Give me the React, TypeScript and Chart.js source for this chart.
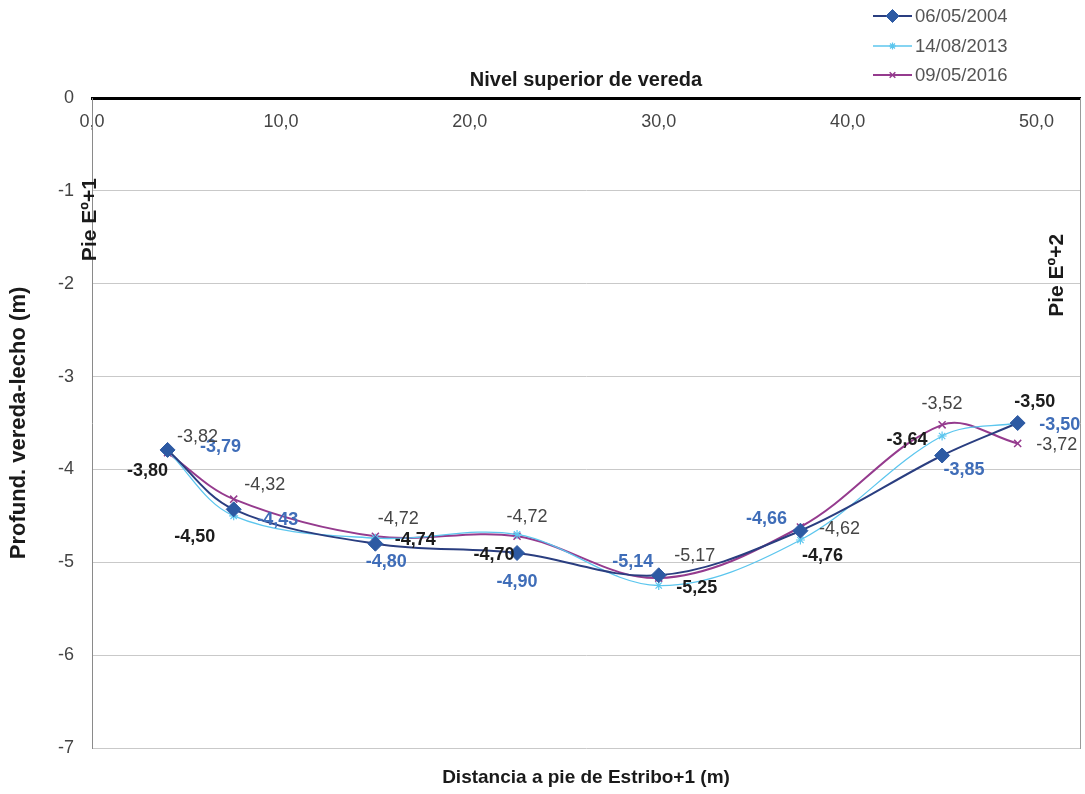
import React, { useEffect, useRef } from 'react';
import { Chart, registerables } from 'chart.js';
import { drawPoint } from 'chart.js/helpers';

Chart.register(...registerables);

const FONT = '"Liberation Sans", Arial, Helvetica, sans-serif';

// ---- Data ----
const distances = [4, 7.5, 15, 22.5, 30, 37.5, 45, 49];
const seriesNames = ['06/05/2004', '14/08/2013', '09/05/2016'];
const depth2004 = [-3.79, -4.43, -4.8, -4.9, -5.14, -4.66, -3.85, -3.5];
const depth2013 = [-3.8, -4.5, -4.74, -4.7, -5.25, -4.76, -3.64, -3.5];
const depth2016 = [-3.82, -4.32, -4.72, -4.72, -5.17, -4.62, -3.52, -3.72];
const xTickValues = [0, 10, 20, 30, 40, 50];
const yTickValues = [0, -1, -2, -3, -4, -5, -6, -7];

const topTitle = 'Nivel superior de vereda';
const xTitle = 'Distancia a pie de Estribo+1 (m)';
const yTitle = 'Profund. vereda-lecho (m)';
const sideNotes = ['Pie Eº+1', 'Pie Eº+2'];

// ---- label placement (pixel offsets from each point) ----
const offsets2004 = [[53, -3], [44, 11], [11, 18], [0, 29], [-26, -13], [-34, -12], [22, 15], [42, 2]];
const offsets2013 = [[-20, 20], [-39, 21], [40, 2], [-23, 21], [38, 3], [22, 16], [-35, 4], [17, -21]];
const offsets2016 = [[30, -16], [31, -14], [23, -17], [10, -19], [36, -22], [39, 2], [0, -21], [39, 2]];
const labelOffsets = [offsets2004, offsets2013, offsets2016];
const labelStyles = [
  { color: '#3F6DB8', weight: 'bold' },
  { color: '#1c1c1c', weight: 'bold' },
  { color: '#454545', weight: 'normal' },
];

const fmtComma = (v: number, d: number) => v.toFixed(d).replace('.', ',');

const pointLabelPlugin = {
  id: 'pointLabels',
  afterDatasetsDraw(chart: any) {
    const ctx = chart.ctx;
    chart.data.datasets.forEach((ds: any, i: number) => {
      const meta = chart.getDatasetMeta(i);
      const st = labelStyles[i];
      ctx.save();
      ctx.font = `${st.weight} 18px ${FONT}`;
      ctx.fillStyle = st.color;
      ctx.textAlign = 'center';
      ctx.textBaseline = 'middle';
      meta.data.forEach((pt: any, j: number) => {
        const [dx, dy] = labelOffsets[i][j];
        ctx.fillText(fmtComma(ds.data[j].y, 2), pt.x + dx, pt.y + dy);
      });
      ctx.restore();
    });
  },
};

const sideNotePlugin = {
  id: 'sideNotes',
  afterDraw(chart: any) {
    const ctx = chart.ctx;
    const xs = chart.scales.x;
    const ys = chart.scales.y;
    const spots = [
      [xs.getPixelForValue(-0.1), ys.getPixelForValue(-1.31)],
      [xs.getPixelForValue(51.1), ys.getPixelForValue(-1.91)],
    ];
    ctx.save();
    ctx.font = `bold 21px ${FONT}`;
    ctx.fillStyle = '#1a1a1a';
    ctx.textAlign = 'center';
    ctx.textBaseline = 'middle';
    sideNotes.forEach((t, i) => {
      ctx.save();
      ctx.translate(spots[i][0], spots[i][1]);
      ctx.rotate(-Math.PI / 2);
      ctx.fillText(t, 0, 0);
      ctx.restore();
    });
    ctx.restore();
  },
};

const stackedLegendPlugin = {
  id: 'stackedLegend',
  afterDraw(chart: any) {
    const ctx = chart.ctx;
    const x0 = 873;
    const x1 = 912;
    const rowY = [16, 46, 75];
    ctx.save();
    chart.data.datasets.forEach((ds: any, i: number) => {
      const y = rowY[i];
      ctx.strokeStyle = ds.borderColor;
      ctx.lineWidth = ds.borderWidth;
      ctx.beginPath();
      ctx.moveTo(x0, y);
      ctx.lineTo(x1, y);
      ctx.stroke();
      ctx.fillStyle = ds.pointBackgroundColor;
      ctx.strokeStyle = ds.pointBorderColor;
      ctx.lineWidth = ds.pointBorderWidth;
      drawPoint(ctx, { pointStyle: ds.pointStyle, radius: ds.pointRadius - 1, rotation: 0, borderWidth: ds.pointBorderWidth }, (x0 + x1) / 2, y);
      ctx.fillStyle = '#555555';
      ctx.font = `18.5px ${FONT}`;
      ctx.textAlign = 'left';
      ctx.textBaseline = 'middle';
      ctx.fillText(ds.label, x1 + 3, y + 1);
    });
    ctx.restore();
  },
};

const toPoints = (ys: number[]) => distances.map((x, i) => ({ x, y: ys[i] }));

export default function App() {
  const ref = useRef<HTMLCanvasElement | null>(null);

  useEffect(() => {
    if (!ref.current) return;
    Chart.defaults.font.family = FONT;
    const chart = new Chart(ref.current, {
      type: 'line',
      data: {
        datasets: [
          {
            label: seriesNames[0],
            data: toPoints(depth2004),
            borderColor: '#2A3E80',
            borderWidth: 2,
            pointStyle: 'rectRot',
            pointRadius: 7.5,
            pointBackgroundColor: '#2D5AA3',
            pointBorderColor: '#2D5AA3',
            pointBorderWidth: 1,
            tension: 0.35,
          },
          {
            label: seriesNames[1],
            data: toPoints(depth2013),
            borderColor: '#5CC6EE',
            borderWidth: 1.3,
            pointStyle: 'star',
            pointRadius: 4.5,
            pointBackgroundColor: '#5CC6EE',
            pointBorderColor: '#5CC6EE',
            pointBorderWidth: 1.2,
            tension: 0.35,
          },
          {
            label: seriesNames[2],
            data: toPoints(depth2016),
            borderColor: '#953B8E',
            borderWidth: 2,
            pointStyle: 'crossRot',
            pointRadius: 5,
            pointBackgroundColor: '#953B8E',
            pointBorderColor: '#953B8E',
            pointBorderWidth: 1.5,
            tension: 0.35,
          },
        ] as any,
      },
      options: {
        responsive: false,
        animation: false,
        layout: { padding: 0, autoPadding: false },
        plugins: {
          legend: { display: false },
          tooltip: { enabled: false },
          title: { display: false },
        },
        scales: {
          x: {
            type: 'linear',
            position: 'top',
            min: 0,
            max: 52.3,
            afterFit: (s: any) => { s.height = 98; },
            afterBuildTicks: (s: any) => { s.ticks = xTickValues.map((v) => ({ value: v })); },
            ticks: {
              mirror: true,
              padding: 13,
              color: '#444',
              font: { size: 18 },
              maxRotation: 0,
              autoSkip: false,
              callback: (v: any) => fmtComma(Number(v), 1),
            },
            grid: { display: false },
            border: { display: true, color: '#000', width: 3 },
            title: {
              display: true,
              text: topTitle,
              color: '#1a1a1a',
              font: { size: 20, weight: 'bold' },
              padding: { top: 68, bottom: 0 },
            },
          },
          x2: {
            type: 'linear',
            position: 'bottom',
            afterFit: (s: any) => { s.height = 46; },
            ticks: { display: false },
            grid: { display: false },
            border: { display: false },
            title: {
              display: true,
              text: xTitle,
              color: '#1a1a1a',
              font: { size: 19, weight: 'bold' },
              padding: { top: 0, bottom: 5 },
            },
          },
          y: {
            type: 'linear',
            position: 'left',
            min: -7,
            max: 0,
            afterFit: (s: any) => { s.width = 92; },
            afterBuildTicks: (s: any) => { s.ticks = yTickValues.map((v) => ({ value: v })); },
            ticks: {
              padding: 18,
              color: '#444',
              font: { size: 18 },
              callback: (v: any) => String(Number(v)),
            },
            grid: { color: '#c9c9c9', lineWidth: 1, drawTicks: false },
            border: { display: true, color: '#8a8a8a', width: 1 },
            title: {
              display: true,
              text: yTitle,
              color: '#1a1a1a',
              font: { size: 22, weight: 'bold' },
              padding: { top: 6, bottom: 0 },
            },
          },
          y2: {
            type: 'linear',
            position: 'right',
            min: -7,
            max: 0,
            afterFit: (s: any) => { s.width = 5; },
            ticks: { display: false },
            grid: { display: false },
            border: { display: true, color: '#9a9a9a', width: 1 },
          },
        },
      } as any,
      plugins: [pointLabelPlugin, sideNotePlugin, stackedLegendPlugin],
    });
    return () => chart.destroy();
  }, []);

  return (
    <div style={{ position: 'fixed', left: 0, top: 0, width: 1085, height: 794, background: '#fff' }}>
      <canvas ref={ref} width={1085} height={794} style={{ display: 'block' }} />
    </div>
  );
}
